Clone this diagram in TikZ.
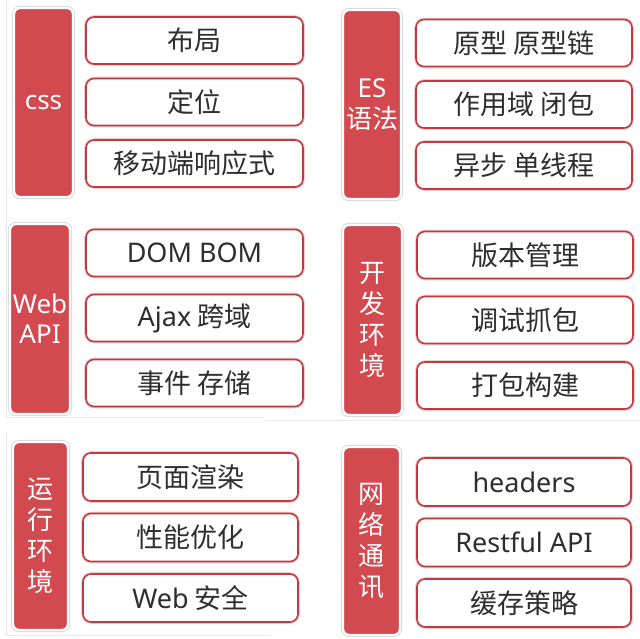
\documentclass[tikz,border=0pt]{standalone}
\usepackage{fontspec}
\setmainfont{Noto Sans CJK SC}
\newfontfamily\latinfont{Noto Sans}
\newcommand{\en}[1]{{\latinfont #1}}
\usepackage{xcolor}
\definecolor{barred}{HTML}{D24A50}
\definecolor{boxred}{HTML}{C23A40}
\definecolor{txtgray}{HTML}{2E2E2E}

\begin{document}
\begin{tikzpicture}[
  x=1pt, y=-1pt,
  catbar/.style={rounded corners=6pt,fill=barred,draw=white,line width=2.4pt,text=white,align=center,inner sep=0pt,font=\fontsize{26}{31}\selectfont,preaction={draw=black!15,line width=4.2pt}},
  topic/.style={rounded corners=8pt,fill=white,draw=boxred,line width=1.6pt,text=txtgray,inner sep=0pt,font=\fontsize{27}{32}\selectfont,preaction={draw=boxred!25,line width=3.6pt}},
  sepline/.style={draw=black!9,line width=1pt}
]
  \useasboundingbox (0,0) rectangle (640,639);
  \draw[sepline] (6,0) -- (6,418);
  \draw[sepline] (6,432) -- (6,636);
  \draw[sepline] (6,417) -- (265,417);
  \draw[sepline] (265,420) -- (640,420);
  \draw[sepline] (6,635) -- (271,635);

  \node[catbar,minimum width=59pt,minimum height=189pt] (css) at (43.5,102.5) {\en{css}};
  \node[topic,minimum width=217pt,minimum height=47pt] (css1) at (194.5,40.5) {布局};
  \node[topic,minimum width=217pt,minimum height=47pt] (css2) at (194.5,102) {定位};
  \node[topic,minimum width=217pt,minimum height=47pt] (css3) at (194.5,163.5) {移动端响应式};

  \node[catbar,minimum width=58pt,minimum height=189pt] (es) at (372,104.5) {\en{ES}\\语法};
  \node[topic,minimum width=216pt,minimum height=47pt] (es1) at (524,43) {原型 原型链};
  \node[topic,minimum width=216pt,minimum height=47pt] (es2) at (524,104.5) {作用域 闭包};
  \node[topic,minimum width=216pt,minimum height=47pt] (es3) at (524,165.5) {异步 单线程};

  \node[catbar,minimum width=60pt,minimum height=190pt,font=\fontsize{26}{30}\selectfont] (webapi) at (40,319) {\en{Web}\\\en{API}};
  \node[topic,minimum width=217pt,minimum height=47pt] (web1) at (194.5,253) {\en{DOM BOM}};
  \node[topic,minimum width=217pt,minimum height=47pt] (web2) at (194.5,318) {\en{Ajax} 跨域};
  \node[topic,minimum width=217pt,minimum height=47pt] (web3) at (194.5,383) {事件 存储};

  \node[catbar,minimum width=59pt,minimum height=190pt] (devenv) at (372.5,320) {开\\发\\环\\境};
  \node[topic,minimum width=216pt,minimum height=47pt] (dev1) at (525,255) {版本管理};
  \node[topic,minimum width=216pt,minimum height=47pt] (dev2) at (525,320) {调试抓包};
  \node[topic,minimum width=216pt,minimum height=47pt] (dev3) at (525,385.5) {打包构建};

  \node[catbar,minimum width=55pt,minimum height=188pt] (runenv) at (40.5,536) {运\\行\\环\\境};
  \node[topic,minimum width=215pt,minimum height=48pt] (run1) at (190.5,477) {页面渲染};
  \node[topic,minimum width=215pt,minimum height=48pt] (run2) at (190.5,537.5) {性能优化};
  \node[topic,minimum width=215pt,minimum height=48pt] (run3) at (190.5,598) {\en{Web} 安全};

  \node[catbar,minimum width=57pt,minimum height=188pt] (network) at (371.5,541) {网\\络\\通\\讯};
  \node[topic,minimum width=214pt,minimum height=48pt] (net1) at (524,482) {\en{headers}};
  \node[topic,minimum width=214pt,minimum height=48pt] (net2) at (524,542.5) {\en{Restful API}};
  \node[topic,minimum width=214pt,minimum height=48pt] (net3) at (524,603) {缓存策略};
\end{tikzpicture}
\end{document}
